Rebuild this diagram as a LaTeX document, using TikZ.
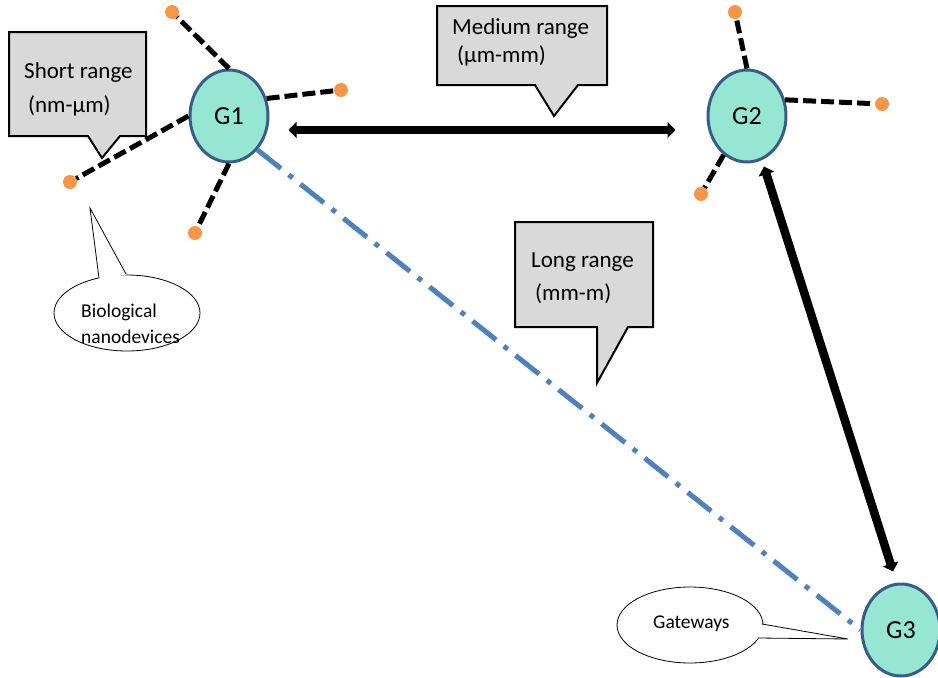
\documentclass[tikz,border=0pt]{standalone}
\usepackage{fontspec}
\setmainfont{Carlito}
\usetikzlibrary{shapes.geometric,arrows.meta,calc}
\definecolor{gwfill}{RGB}{150,230,212}
\definecolor{gwedge}{RGB}{56,93,138}
\definecolor{devorange}{RGB}{247,150,70}
\definecolor{linkblue}{RGB}{79,129,189}
\definecolor{calloutgray}{RGB}{217,217,217}
\begin{document}
\begin{tikzpicture}[x=1pt,y=-1pt,
  gateway/.style={ellipse, draw=gwedge, line width=3pt, fill=gwfill,
    minimum width=78pt, minimum height=92pt, inner sep=0pt,
    font=\fontsize{26}{30}\selectfont},
  device/.style={circle, fill=devorange, minimum size=14pt, inner sep=0pt},
  shortlink/.style={line width=5pt, dash pattern=on 13pt off 5pt},
  bigarrow/.style={line width=8.5pt,
    {Triangle[length=8pt,width=16pt]}-{Triangle[length=8pt,width=16pt]}},
  longlink/.style={linkblue, line width=5pt,
    dash pattern=on 30pt off 10pt on 5pt off 10pt},
  boxcallout/.style={fill=calloutgray, draw=black, line width=2pt, line join=miter},
  ovalcallout/.style={fill=white, draw=black, line width=0.8pt},
  boxtext/.style={anchor=base west, inner sep=0pt, font=\fontsize{23}{27}\selectfont},
  ovaltext/.style={anchor=base west, inner sep=0pt, font=\fontsize{19.5}{23}\selectfont}
]
\useasboundingbox (0,0) rectangle (938,678);

% ---- gateways ----
\node[gateway] (g1) at (229,116) {G1};
\node[gateway] (g2) at (747,116) {G2};
\node[gateway] (g3) at (901,630) {G3};

% ---- nanodevices around G1 and G2 ----
\node[device] (a1) at (172,12) {};
\node[device] (a2) at (341,90) {};
\node[device] (a3) at (70,182) {};
\node[device] (a4) at (195,233) {};
\node[device] (b1) at (735,12) {};
\node[device] (b2) at (882,104) {};
\node[device] (b3) at (701,194) {};

\draw[shortlink] (g1.north) -- (a1);
\draw[shortlink] (g1.25) -- (a2);
\draw[shortlink] (g1.west) -- (a3);
\draw[shortlink] (g1.south) -- (a4);
\draw[shortlink] (g2.north) -- (b1);
\draw[shortlink] (g2.23) -- (b2);
\draw[shortlink] (g2.239) -- (b3);

% ---- links between gateways ----
\draw[bigarrow] ($(g1.east)+(19,14)$) -- ($(g2.west)+(-31,14)$);
\draw[bigarrow] ($(g2.south)+(17,3)$) -- ($(g3.north)+(-8,-11)$);
\draw[longlink] (g1.-50) -- (g3.west);

% ---- range callouts ----
\draw[boxcallout] (9,32) -- (146,32) -- (146,136) -- (120,136) -- (102,158)
  -- (88,136) -- (9,136) -- cycle;
\node[boxtext] (s1) at (24,78) {Short range};
\node[boxtext] (s2) at (28,112) {(nm-µm)};

\draw[boxcallout] (437,6) -- (607,6) -- (607,85) -- (578,85) -- (554,116)
  -- (535,85) -- (437,85) -- cycle;
\node[boxtext] (m1) at (452,34) {Medium range};
\node[boxtext] (m2) at (457,62) {(µm-mm)};

\draw[boxcallout] (515,222) -- (653,222) -- (653,327) -- (628,327) -- (597,383)
  -- (597,327) -- (515,327) -- cycle;
\node[boxtext] (l1) at (531,267) {Long range};
\node[boxtext] (l2) at (535,300) {(mm-m)};

% ---- oval callouts ----
\draw[ovalcallout] (127,313) ellipse [x radius=73, y radius=38];
\fill[white] (99,279) -- (90,208) -- (126,275) -- cycle;
\draw[black, line width=0.8pt] (99,278) -- (90,208) -- (126,274);
\node[ovaltext] (n1) at (81,317) {Biological};
\node[ovaltext] (n2) at (81,343) {nanodevices};

\draw[ovalcallout] (690,625) ellipse [x radius=73, y radius=38];
\fill[white] (761,624) -- (848,639) -- (757,638) -- cycle;
\draw[black, line width=0.8pt] (762,624) -- (848,639) -- (758,638);
\node[ovaltext] (gw) at (653,628) {Gateways};
\end{tikzpicture}
\end{document}
